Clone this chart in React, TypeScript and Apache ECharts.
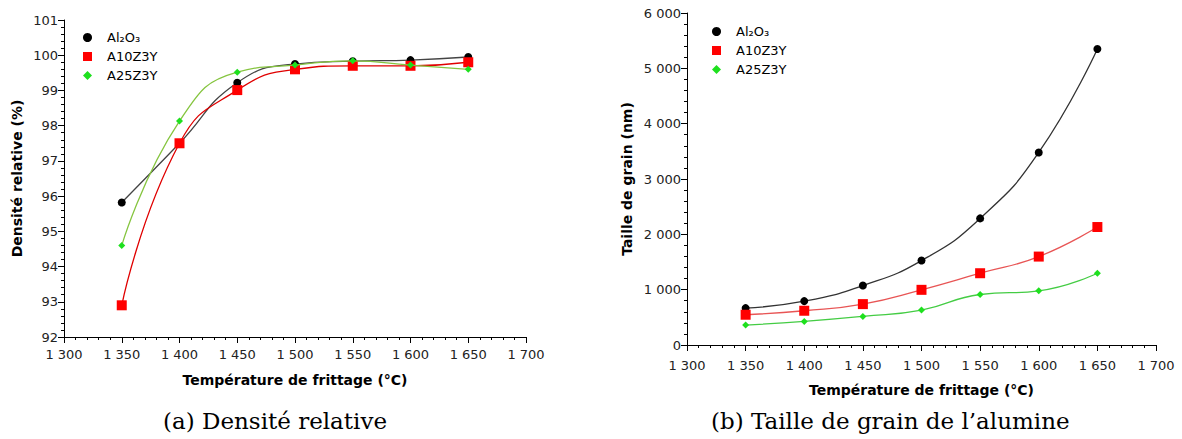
import React, { useEffect, useRef } from "react";
import * as echarts from "echarts";

const temperatures = [1350, 1400, 1450, 1500, 1550, 1600, 1650];
const seriesNames = ["Al₂O₃", "A10Z3Y", "A25Z3Y"];

// (a) Densité relative (%)
const densAl2O3 = [95.82, 97.5, 99.22, 99.75, 99.83, 99.86, 99.95];
const densA10Z3Y = [92.9, 97.5, 99.01, 99.6, 99.7, 99.7, 99.8];
const densA25Z3Y = [94.6, 98.13, 99.52, 99.72, 99.84, 99.72, 99.6];

// (b) Taille de grain (nm)
const grainAl2O3 = [667, 793, 1075, 1526, 2288, 3480, 5350];
const grainA10Z3Y = [547, 619, 739, 997, 1297, 1598, 2132];
const grainA25Z3Y = [360, 426, 517, 631, 913, 979, 1297];

const captions = ["(a) Densité relative", "(b) Taille de grain de l’alumine"];
const xTitle = "Température de frittage (°C)";
const yTitleA = "Densité relative (%)";
const yTitleB = "Taille de grain (nm)";

const FONT = "DejaVu Sans";

const fmt = (v: number) => {
  const s = String(Math.round(v));
  return s.replace(/\B(?=(\d{3})+(?!\d))/g, " ");
};

const markerColors = ["#000000", "#ff0000", "#1ee01e"];
const symbols = ["circle", "rect", "diamond"];
const symbolSizes = [8, 10, 7];

function xAxisFor(gridIndex: number, gap: number, margin: number) {
  return {
    type: "value",
    gridIndex,
    min: 1300,
    max: 1700,
    interval: 50,
    name: xTitle,
    nameLocation: "middle",
    nameGap: gap,
    nameTextStyle: { fontFamily: FONT, fontWeight: "bold", fontSize: 14, color: "#000" },
    axisLine: { lineStyle: { color: "#000", width: 1 } },
    axisTick: { show: true, length: 6, lineStyle: { color: "#000" } },
    minorTick: { show: true, splitNumber: 5, length: 3, lineStyle: { color: "#000" } },
    splitLine: { show: false },
    axisLabel: { fontFamily: FONT, fontSize: 13, color: "#222", margin, formatter: fmt },
  };
}

function yAxisFor(gridIndex: number, min: number, max: number, interval: number, name: string, gap: number) {
  return {
    type: "value",
    gridIndex,
    min,
    max,
    interval,
    name,
    nameLocation: "middle",
    nameGap: gap,
    nameRotate: 90,
    nameTextStyle: { fontFamily: FONT, fontWeight: "bold", fontSize: 14, color: "#000" },
    axisLine: { show: true, lineStyle: { color: "#000", width: 1 } },
    axisTick: { show: true, length: 6, lineStyle: { color: "#000" } },
    minorTick: { show: true, splitNumber: 5, length: 3, lineStyle: { color: "#000" } },
    splitLine: { show: false },
    axisLabel: { fontFamily: FONT, fontSize: 13, color: "#222", margin: 6, formatter: fmt },
  };
}

function makeSeries(idx: number, values: number[], axisIndex: number, lineColor: string) {
  return {
    type: "line",
    name: seriesNames[idx],
    xAxisIndex: axisIndex,
    yAxisIndex: axisIndex,
    data: temperatures.map((t, i) => [t, values[i]]),
    smooth: 0.5,
    symbol: symbols[idx],
    symbolSize: symbolSizes[idx],
    showAllSymbol: true,
    itemStyle: { color: markerColors[idx] },
    lineStyle: { color: lineColor, width: 1.3 },
    z: 2 + idx,
  };
}

function legendFor(left: number, top: number) {
  return {
    orient: "vertical",
    left,
    top,
    itemGap: 6,
    itemWidth: 9,
    itemHeight: 9,
    selectedMode: false,
    textStyle: { fontFamily: FONT, fontSize: 13, color: "#000", padding: [0, 0, 0, 10] },
    data: seriesNames.map((n, i) => ({
      name: n,
      icon: symbols[i],
      itemStyle: { color: markerColors[i] },
    })),
  };
}

export default function App() {
  const ref = useRef<HTMLDivElement>(null);
  useEffect(() => {
    if (!ref.current) return;
    const chart = echarts.init(ref.current, undefined, { renderer: "svg" });
    chart.setOption({
      animation: false,
      backgroundColor: "#ffffff",
      grid: [
        { left: 64, top: 20, width: 462, height: 317 },
        { left: 687, top: 13, width: 469, height: 332 },
      ],
      xAxis: [xAxisFor(0, 36, 11), xAxisFor(1, 38, 14)],
      yAxis: [
        yAxisFor(0, 92, 101, 1, yTitleA, 40),
        yAxisFor(1, 0, 6000, 1000, yTitleB, 53),
      ],
      legend: [legendFor(78, 26), legendFor(707, 20)],
      series: [
        makeSeries(0, densAl2O3, 0, "#444444"),
        makeSeries(1, densA10Z3Y, 0, "#e00000"),
        makeSeries(2, densA25Z3Y, 0, "#86c540"),
        makeSeries(0, grainAl2O3, 1, "#333333"),
        makeSeries(1, grainA10Z3Y, 1, "#e85555"),
        makeSeries(2, grainA25Z3Y, 1, "#44cc44"),
      ],
      graphic: [
        {
          type: "text",
          left: 163,
          top: 409,
          style: { text: captions[0], fontFamily: "DejaVu Serif", fontSize: 23, fill: "#000" },
        },
        {
          type: "text",
          left: 711,
          top: 409,
          style: { text: captions[1], fontFamily: "DejaVu Serif", fontSize: 23, fill: "#000" },
        },
      ],
    });
    return () => chart.dispose();
  }, []);
  return (
    <div
      ref={ref}
      style={{ position: "fixed", left: 0, top: 0, width: 1182, height: 439, background: "#fff" }}
    />
  );
}
